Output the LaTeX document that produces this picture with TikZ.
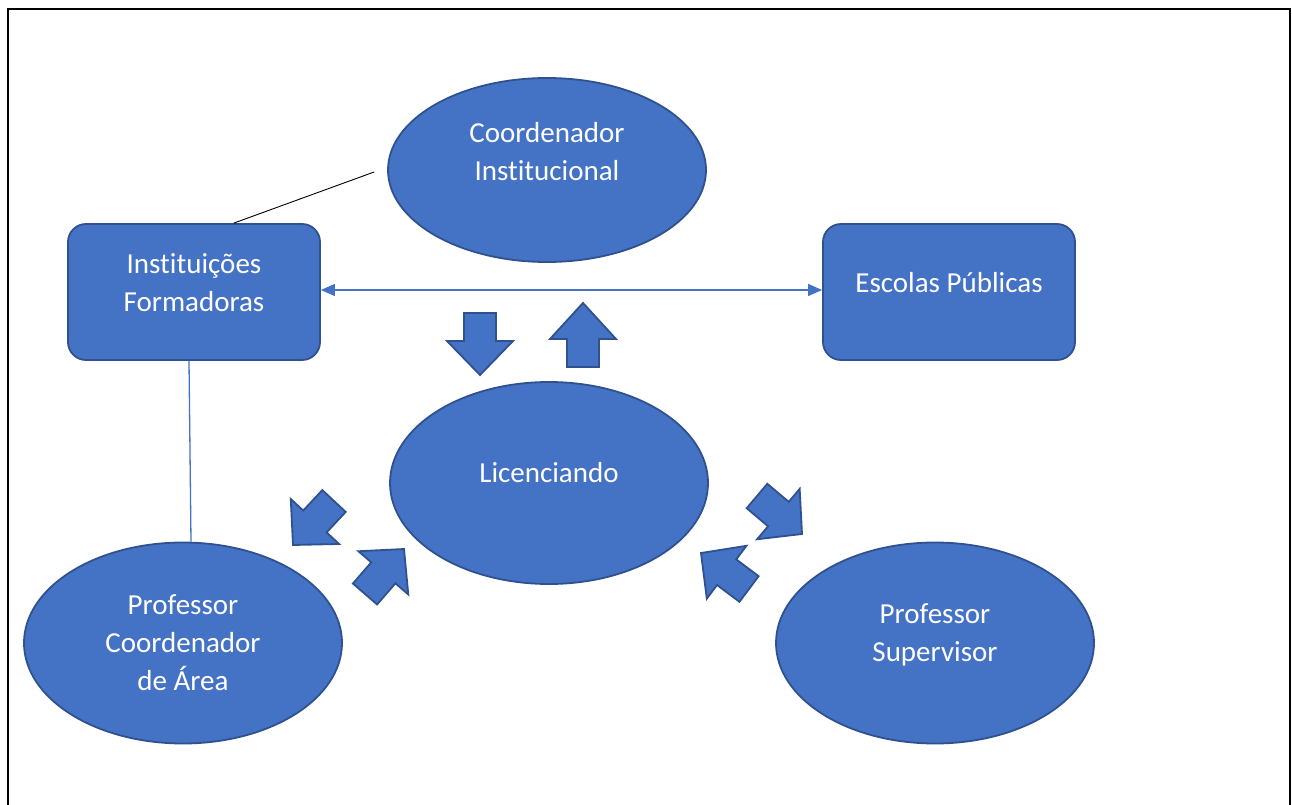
\documentclass[tikz,border=0pt]{standalone}
\usepackage{fontspec}
\setmainfont{Carlito}[Ligatures=NoCommon]
\usetikzlibrary{calc,arrows.meta,shapes.geometric}
\definecolor{fillb}{HTML}{4472C4}
\definecolor{edgeb}{HTML}{2F528F}
\newcommand{\blockarr}[3]{%
  \coordinate (#1-s) at (#2);
  \coordinate (#1-t) at (#3);
  \coordinate (#1-h) at ($(#1-s)!28pt!(#1-t)$);
  \draw[barrow] ($(#1-s)!16pt!90:(#1-t)$) -- ($(#1-h)!16pt!90:(#1-t)$) -- ($(#1-h)!33pt!90:(#1-t)$) -- (#1-t) -- ($(#1-h)!33pt!-90:(#1-t)$) -- ($(#1-h)!16pt!-90:(#1-t)$) -- ($(#1-s)!16pt!-90:(#1-t)$) -- cycle;}
\begin{document}
\begin{tikzpicture}[x=1pt,y=-1pt,
  ell/.style={ellipse, draw=edgeb, fill=fillb, line width=1.8pt, minimum width=318pt, inner sep=0pt},
  box/.style={rectangle, rounded corners=18pt, draw=edgeb, fill=fillb, line width=1.8pt, minimum width=252pt, minimum height=136pt, inner sep=0pt},
  txt/.style={text=white, font=\fontsize{29}{38}\selectfont, align=center, inner sep=0pt},
  barrow/.style={draw=edgeb, fill=fillb, line width=1.8pt, line join=miter},
  conn/.style={draw=fillb, line width=1.3pt}]
\useasboundingbox (0,0) rectangle (1292,805);
\fill[white] (0,0) rectangle (1292,805);
\draw[line width=2.5pt] (8,805) -- (8,9) -- (1290,9) -- (1290,805);

\node[ell, minimum height=184pt] (ci) at (547,170) {};
\node[txt] (ci-t) at (547,152) {Coordenador\\Institucional};

\node[box] (inst) at (194,292) {};
\node[txt] (inst-t) at (194,283) {Instituições\\Formadoras};

\node[box] (ep) at (949,292) {};
\node[txt] (ep-t) at (949,283) {Escolas Públicas};

\node[ell, minimum height=202pt] (lic) at (549,483) {};
\node[txt] (lic-t) at (549,473) {Licenciando};

\node[ell, minimum height=201pt] (pca) at (183,643) {};
\node[txt] (pca-t) at (183,643) {Professor\\Coordenador\\de Área};

\node[ell, minimum height=201pt] (ps) at (935,643) {};
\node[txt] (ps-t) at (935,635) {Professor\\Supervisor};

\coordinate (cil) at ($(ci.west)+(-13,2)$);
\draw[black, line width=0.9pt] ($(inst.north west)!0.657!(inst.north east)$) -- (cil);
\draw[conn] ($(inst.south)+(-5,0)$) -- ($(pca.north)+(8,0)$);
\draw[conn, {Triangle[length=14pt,width=12pt]}-{Triangle[length=14pt,width=12pt]}] ($(inst.east)+(0,-2)$) -- ($(ep.west)+(0,-2)$);

\blockarr{a1}{480,313}{480,375}
\blockarr{a2}{583,367}{583,303}
\blockarr{a3}{334,501}{293,545}
\blockarr{a4}{365,594}{404,549}
\blockarr{a5}{757,496}{802,534}
\blockarr{a6}{749,589}{701,553}
\end{tikzpicture}
\end{document}
